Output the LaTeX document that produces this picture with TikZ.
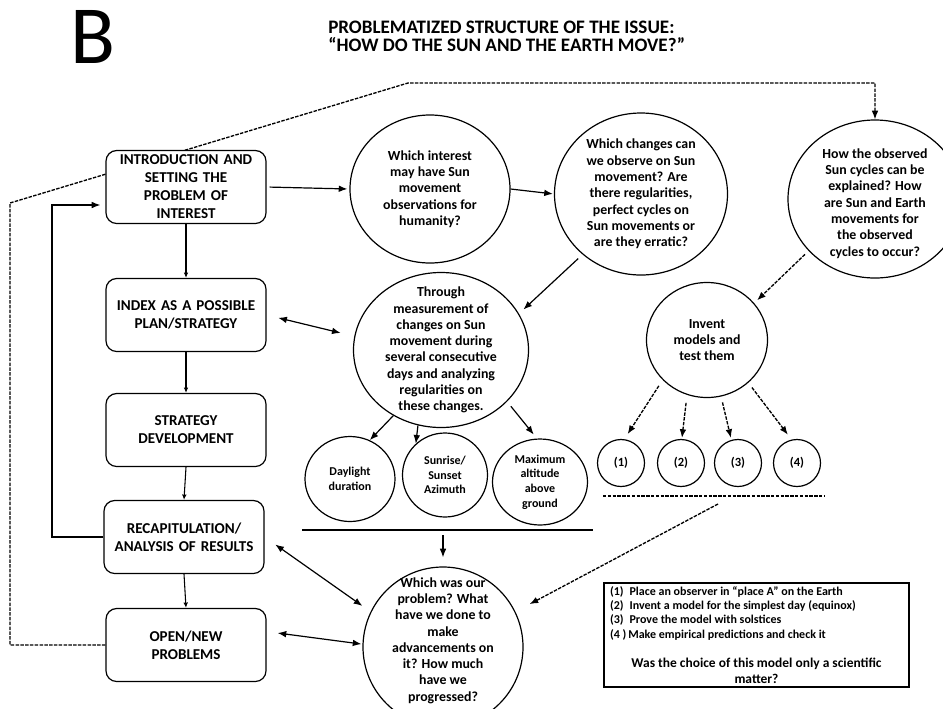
\documentclass[tikz,border=0pt]{standalone}
\usepackage{fontspec}
\setmainfont{Carlito}
\usetikzlibrary{arrows.meta,calc,shapes.geometric}
\pgfdeclarelayer{bg}
\pgfsetlayers{bg,main}
\newlength\px
\setlength\px{0.75pt}
\begin{document}
\begin{tikzpicture}[x=0.75pt,y=-0.75pt,
  box/.style={draw, line width=0.9pt, rounded corners=8pt, fill=white,
    minimum width=160\px, minimum height=73\px, text width=155\px,
    align=center, inner sep=0pt, font=\fontsize{11.3}{13.5}\selectfont\bfseries},
  circ/.style={draw, ellipse, line width=0.9pt, inner sep=-18pt, align=center,
    fill=white, font=\fontsize{10.4}{12.2}\selectfont\bfseries},
  smallc/.style={circ, font=\fontsize{9}{10.9}\selectfont\bfseries},
  num/.style={circ, minimum width=47\px, minimum height=47\px,
    font=\fontsize{9.4}{11}\selectfont\bfseries},
  arr/.style={line width=0.9pt, -{Latex[length=6.5pt,width=5pt]}},
  darr/.style={line width=0.9pt, {Latex[length=6.5pt,width=5pt]}-{Latex[length=6.5pt,width=5pt]}},
  varr/.style={line width=0.8pt, -{Latex[length=4pt,width=3.5pt]}},
  dsh/.style={line width=1pt, dash pattern=on 2.6pt off 1pt},
  dashar/.style={dsh, -{Latex[length=6.5pt,width=5pt]}}
]
\useasboundingbox (0,0) rectangle (943,708);
\clip (0,0) rectangle (943,708);

% heading
\node[anchor=base west, inner sep=0pt, font=\fontsize{62}{62}\selectfont] (lettB) at (70,63) {B};
\node[anchor=base west, inner sep=0pt, font=\fontsize{14.3}{15}\selectfont\bfseries] (title1) at (328,33) {PROBLEMATIZED STRUCTURE OF THE ISSUE:};
\node[anchor=base west, inner sep=0pt, font=\fontsize{14.3}{15}\selectfont\bfseries] (title2) at (328,51) {“HOW DO THE SUN AND THE EARTH MOVE?”};

% left column
\node[box] (box1) at (186,187) {INTRODUCTION AND\\SETTING THE\\PROBLEM OF\\INTEREST};
\node[box] (box2) at (186,315) {INDEX AS A POSSIBLE\\PLAN/STRATEGY};
\node[box] (box3) at (186,430) {STRATEGY\\DEVELOPMENT};
\node[box] (box4) at (184,537) {RECAPITULATION/\\ANALYSIS OF RESULTS};
\node[box] (box5) at (186,645) {OPEN/NEW\\PROBLEMS};

% circles
\node[circ, minimum width=160\px, minimum height=148\px] (c1) at (430,189)
  {Which interest\\may have Sun\\movement\\observations for\\humanity?};
\node[circ, minimum width=173\px, minimum height=162\px] (c2) at (641,194)
  {Which changes can\\we observe on Sun\\movement? Are\\there regularities,\\perfect cycles on\\Sun movements or\\are they erratic?};
\node[circ, minimum width=174\px, minimum height=158\px] (c3) at (875,199)
  {\raisebox{-5\px}[\height][\depth]{\begin{tabular}{@{}c@{}}How the observed\\Sun cycles can be\\explained? How\\are Sun and Earth\\movements for\\the observed\\cycles to occur?\end{tabular}}};
\node[circ, minimum width=175\px, minimum height=155\px] (thr) at (441,350)
  {Through\\measurement of\\changes on Sun\\movement during\\several consecutive\\days and analyzing\\regularities on\\these changes.};
\node[circ, minimum width=121\px, minimum height=115\px] (inv) at (707,340)
  {Invent\\models and\\test them};
\node[smallc, minimum width=90\px, minimum height=85\px] (day) at (350,479) {Daylight\\duration};
\node[smallc, minimum width=85\px, minimum height=84\px] (sun) at (445,475) {Sunrise/\\Sunset\\Azimuth};
\node[smallc, minimum width=95\px, minimum height=86\px] (max) at (540,482) {Maximum\\altitude\\above\\ground};
\node[circ, minimum width=160\px, minimum height=160\px] (wh) at (443,647)
  {\raisebox{6\px}[\height][\depth]{\begin{tabular}{@{}c@{}}Which was our\\problem? What\\have we done to\\make\\advancements on\\it? How much\\have we\\progressed?\end{tabular}}};
\node[num] (n1) at (621,463) {(1)};
\node[num] (n2) at (681,463) {(2)};
\node[num] (n3) at (738,463) {(3)};
\node[num] (n4) at (797,463) {(4)};

% note box
\node[draw, line width=0.9pt, inner sep=0pt, minimum width=305\px, minimum height=104\px] (note) at (756.5,635)
  {\begin{minipage}{293\px}
   {\fontsize{9}{10.7}\selectfont\bfseries
   (1)\enspace Place an observer in “place A” on the Earth\par
   (2)\enspace Invent a model for the simplest day (equinox)\par
   (3)\enspace Prove the model with solstices\par
   (4 )\,Make empirical predictions and check it\par}
   \vspace{10pt}
   {\centering\fontsize{10.1}{12}\selectfont\bfseries
   Was the choice of this model only a scientific\\matter?\par}
   \end{minipage}};

% coordinates
\coordinate (lc) at (10,203);
\coordinate (tc) at (408,83);
\coordinate (fb) at (52,205);
\coordinate (hl1) at (302,530);
\coordinate (hl2) at (593,530);
\coordinate (hlm) at (443,530);
\coordinate (dl1) at (603,496);
\coordinate (dl2) at (825,496);
\coordinate (dls) at (718,504);

% background dashed loop
\begin{pgfonlayer}{bg}
\draw[dashar] (box5.west) -| (lc) -- (tc) -| (c3.north);
\end{pgfonlayer}

% left column arrows
\draw[varr] (box1.south) -- (box2.north);
\draw[varr] (box2.south) -- (box3.north);
\draw[varr] (box3.south) -- (box4.north);
\draw[varr] (box4.south) -- (box5.north);
\draw[arr, shorten >=5\px] (box4.west) -| (fb) -- (fb -| box1.west);

% main arrows
\draw[arr, shorten <=3\px, shorten >=2\px] (box1.east) -- (c1.west);
\draw[arr, shorten >=1\px] (c1.east) -- (c2.west);
\draw[arr, shorten <=6\px, shorten >=6\px] (c2.226) -- (thr.25);
\draw[darr, shorten <=12\px, shorten >=14\px] (box2.east) -- (thr.171);
\draw[arr] (thr.234) -- (day.63);
\draw[arr] (thr.253) -- (sun.133);
\draw[arr, shorten <=6\px, shorten >=5\px] (thr.322) -- (max.94);
\draw[line width=1pt] (hl1) -- (hl2);
\draw[arr, shorten <=5\px, shorten >=9\px] (hlm) -- (wh.north);
\draw[darr, shorten <=13\px, shorten >=10\px] (box4.east) -- (wh.154);
\draw[darr, shorten >=1\px] ([shift={(11,-12)}]box5.east) -- (wh.178);

% dashed parts
\draw[dashar, shorten <=5\px, shorten >=4\px] (c3.218) -- (inv.38);
\draw[dashar, shorten <=7\px, shorten >=6\px] (inv.222) -- (n1.82);
\draw[dashar, shorten <=8\px, shorten >=1\px] (inv.250) -- (n2.88);
\draw[dashar, shorten <=6\px, shorten >=2\px] (inv.284) -- (n3.106);
\draw[dashar, shorten <=6\px, shorten >=6\px] (inv.314) -- (n4.103);
\draw[dsh] (dl1) -- (dl2);
\draw[dashar, shorten >=16\px] (dls) -- (wh.26);
\end{tikzpicture}
\end{document}
